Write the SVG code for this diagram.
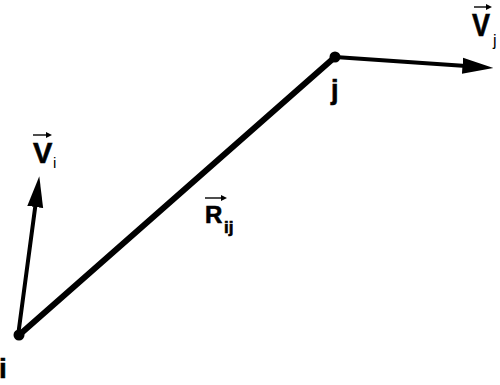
<svg xmlns="http://www.w3.org/2000/svg" width="500" height="385" viewBox="0 0 500 385">
<style>
.lbl{font-family:"Liberation Sans",Arial,sans-serif;font-weight:bold;fill:#000;stroke:#000;stroke-width:0.6}
.sub{font-family:"Liberation Sans",Arial,sans-serif;fill:#000}
.edge{stroke:#000;fill:none;stroke-linecap:round}
.vec{stroke:#000;stroke-width:1.4;fill:none}
.dot{fill:#000}
</style>
<defs>
<marker id="ah" markerUnits="userSpaceOnUse" markerWidth="31" markerHeight="18" refX="0" refY="9" orient="auto" viewBox="0 0 31 18">
<path d="M0,1 L31,9 L0,17 z" fill="#000"/>
</marker>
<marker id="sah" markerUnits="userSpaceOnUse" markerWidth="6" markerHeight="6" refX="0" refY="3" orient="auto" viewBox="0 0 6 6">
<path d="M0,0 L6,3 L0,6 z" fill="#000"/>
</marker>
</defs>
<rect width="500" height="385" fill="#fff"/>
<g id="connectors">
<line class="edge" x1="18" y1="336" x2="335" y2="57" stroke-width="6"/>
<line class="edge" x1="18" y1="336" x2="35.2" y2="207" stroke-width="4" marker-end="url(#ah)"/>
<line class="edge" x1="335" y1="57" x2="462.5" y2="65.8" stroke-width="4" marker-end="url(#ah)"/>
</g>
<g id="node-i">
<circle class="dot" cx="19" cy="335" r="5.5"/>
<text class="lbl" x="-1" y="378" font-size="28">i</text>
</g>
<g id="node-j">
<circle class="dot" cx="335" cy="57" r="5.5"/>
<text class="lbl" x="331" y="99" font-size="27">j</text>
</g>
<g id="label-vi">
<line class="vec" x1="33" y1="135" x2="46" y2="135" marker-end="url(#sah)"/>
<text class="lbl" x="33" y="163" font-size="29">V</text>
<text class="sub" x="53" y="168" font-size="15">i</text>
</g>
<g id="label-vj">
<line class="vec" x1="474" y1="7" x2="486" y2="7" marker-end="url(#sah)"/>
<text class="lbl" x="472" y="36" font-size="31" textLength="18" lengthAdjust="spacingAndGlyphs">V</text>
<text class="sub" x="493" y="46" font-size="16">j</text>
</g>
<g id="label-rij">
<line class="vec" x1="205" y1="198" x2="221" y2="198" marker-end="url(#sah)"/>
<text class="lbl" x="205" y="223" font-size="24">R</text>
<text class="lbl" x="224" y="233" font-size="17">ij</text>
</g>
</svg>
